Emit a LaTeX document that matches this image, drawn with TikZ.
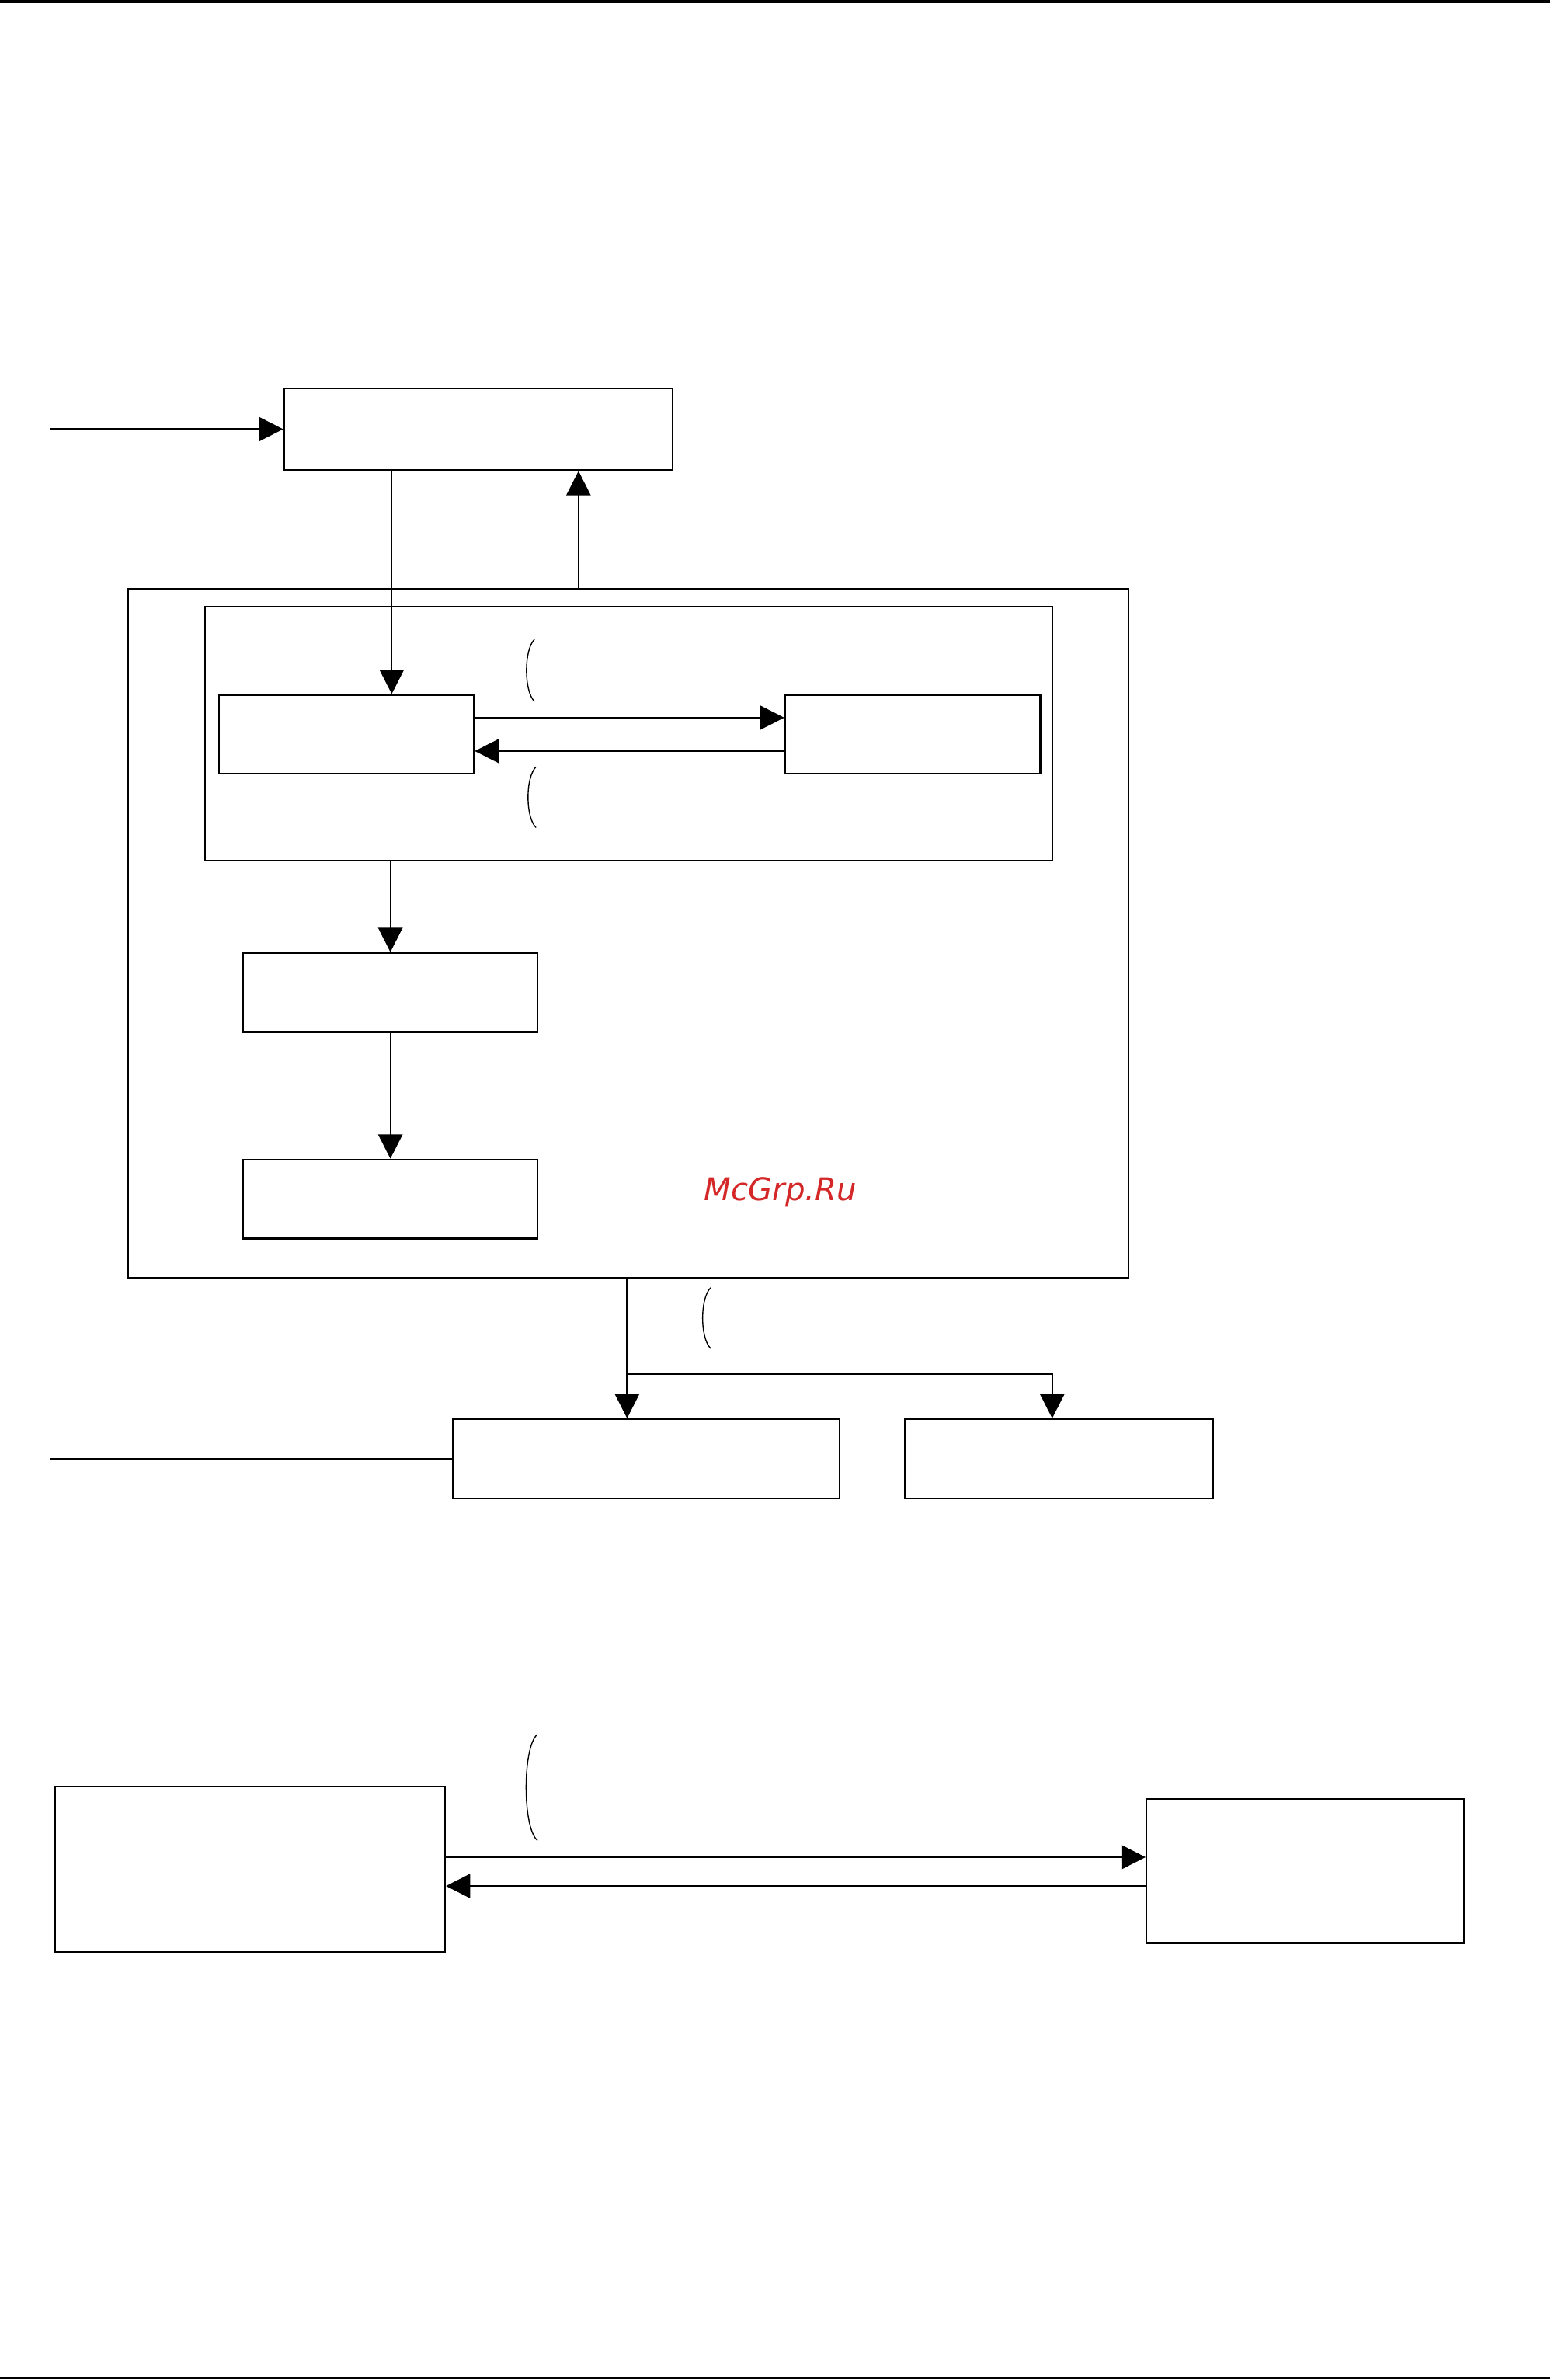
\documentclass[tikz,border=0pt]{standalone}
\usepackage{fontspec}
\newfontfamily\wmfont{DejaVu Sans}
\usetikzlibrary{arrows.meta}
\definecolor{wmred}{RGB}{212,40,40}
\begin{document}
\begin{tikzpicture}[x=0.5pt,y=-0.5pt,
  box/.style={draw,line width=0.6pt,inner sep=0pt,anchor=north west},
  conn/.style={line width=0.5pt},
  arr/.style={conn,-{Triangle[length=8pt,width=8pt]}},
  brace/.style={line width=0.35pt}]
\useasboundingbox (0,0) rectangle (1021,1567.3);
% page rules
\draw[line width=1pt] (0,1) -- (1021,1);
\draw[line width=0.6pt] (0,1566) -- (1021,1566);
% boxes
\node[box,minimum width=128pt,minimum height=27pt] (A) at (186.5,255) {};
\node[box,minimum width=329.5pt,minimum height=227pt] (O) at (83.5,387) {};
\node[box,minimum width=279pt,minimum height=83.5pt] (N) at (134.5,399) {};
\node[box,minimum width=84pt,minimum height=26pt] (B) at (143.5,457) {};
\node[box,minimum width=84pt,minimum height=26pt] (C) at (516.5,457) {};
\node[box,minimum width=97pt,minimum height=26pt] (D) at (159.5,627) {};
\node[box,minimum width=97pt,minimum height=26pt] (E) at (159.5,763) {};
\node[box,minimum width=127.5pt,minimum height=26pt] (F) at (297.5,934) {};
\node[box,minimum width=101.5pt,minimum height=26pt] (G) at (595.5,934) {};
\node[box,minimum width=128.5pt,minimum height=54.5pt] (H) at (35.5,1176) {};
\node[box,minimum width=104.5pt,minimum height=47.5pt] (I) at (754.5,1184) {};
\node[text=wmred,font=\wmfont\itshape\fontsize{10.3}{12}\selectfont] (wm) at (514,785) {McGrp.Ru};
% helper coordinates
\coordinate (xa) at (258,0);
\coordinate (xo) at (381,0);
\coordinate (br) at (413,905);
\coordinate (gx) at (693,0);
\coordinate (fb) at (33,0);
\coordinate (y1) at (0,1223);
\coordinate (y2) at (0,1242);
% connectors
\draw[arr] (A.south -| xa) -- (B.north -| xa);
\draw[arr] (O.north -| xo) -- (A.south -| xo);
\draw[arr] ([yshift=5.5pt]B.east) -- ([yshift=5.5pt]C.west);
\draw[arr] ([yshift=-5.5pt]C.west) -- ([yshift=-5.5pt]B.east);
\draw[arr] (N.south -| D.north) -- (D.north);
\draw[arr] (D.south) -- (E.north);
\draw[arr] (O.south -| br) -- (F.north -| br);
\draw[arr] (br) -| (G.north -| gx);
\draw[arr] (F.west) -| (A.west -| fb) -- (A.west);
\draw[arr] (H.east |- y1) -- (I.west |- y1);
\draw[arr] (I.west |- y2) -- (H.east |- y2);
% parentheses
\draw[brace] (352,421) .. controls (345,428) and (345,455) .. (352,462);
\draw[brace] (353,505) .. controls (346,512) and (346,538) .. (353,545);
\draw[brace] (468,848) .. controls (461,855) and (461,881) .. (468,888);
\draw[brace] (354,1142) .. controls (344,1150) and (344,1204) .. (354,1212);
\end{tikzpicture}
\end{document}
